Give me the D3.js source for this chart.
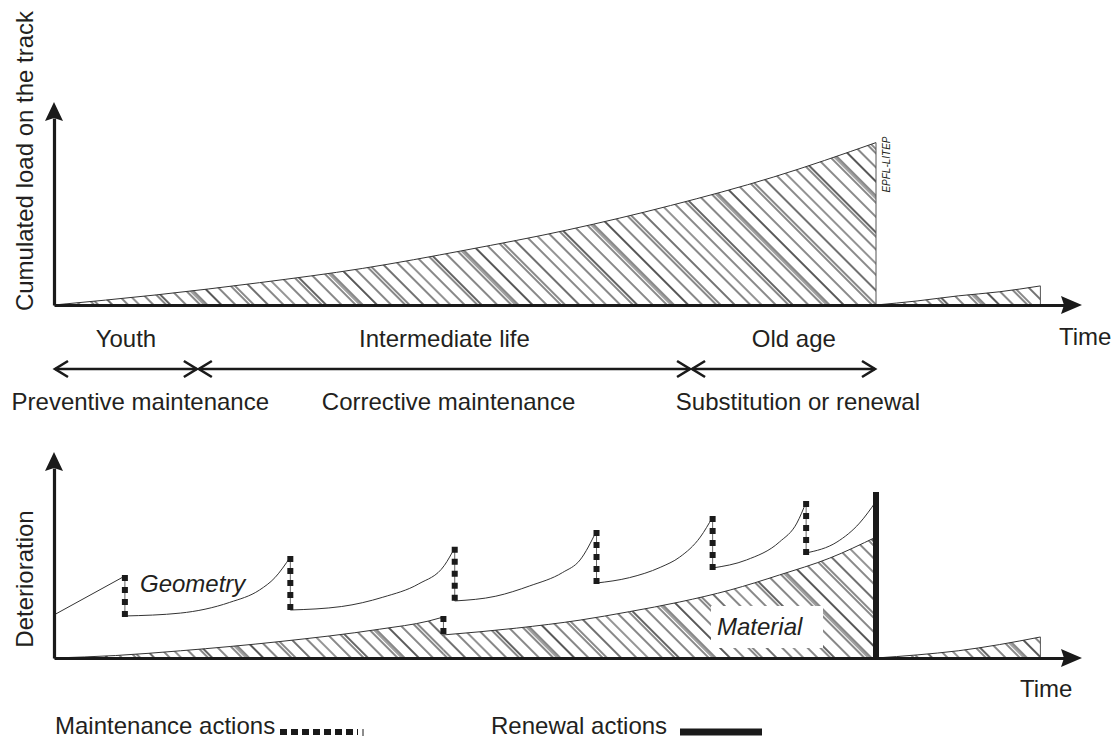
<!DOCTYPE html>
<html>
<head>
<meta charset="utf-8">
<script src="https://cdn.jsdelivr.net/npm/d3@7"></script>
<style>
  body { margin: 0; background: #fff; }
  svg text { font-family: "Liberation Sans", Arial, sans-serif; fill: #231f20; }
</style>
</head>
<body>
<div id="chart"></div>
<script>
// время (0..100) и значения (0..100) в условных единицах
var loadCycle1 = [[0,0],[10,5],[20,11],[30,18],[40,27],[50,37],[60,49],[70,63],[80,80]];
var loadCycle2 = [[80,0],[84,2],[88,4.5],[92,6.5],[96,9.4]];

var phases = ["Youth", "Intermediate life", "Old age"];
var strategies = ["Preventive maintenance", "Corrective maintenance", "Substitution or renewal"];
var phaseBounds = [0, 14, 62, 80];
var phaseLabelT = [7, 38, 72];
var strategyLabelT = [8.4, 38.4, 72.4];

// геометрия: отрезки между подбивками
var geometrySegments = [
  [[0,20.9],[6.9,39.8]],
  [[6.9,20.4],[12.3,21.8],[17.1,27],[20,33],[21.5,39],[23,49]],
  [[23,23.3],[28,25],[32,29.5],[35.5,36],[38,45],[39,53.5]],
  [[39,27.7],[43,30],[46.3,35],[49.5,41.5],[51.2,47.6],[52.8,61.7]],
  [[52.8,36.4],[56,39],[59,44],[60.9,49],[62.9,58.7],[64.1,68.4]],
  [[64.1,43.7],[67.4,47.6],[70.6,56.3],[72.3,65.5],[73.2,75.7]],
  [[73.2,51],[76.2,56.3],[78.4,65.5],[80,76]]
];
var materialSegments = [
  [[0,0],[6,1.2],[12.3,3.5],[22,8],[31.7,14],[36.5,18],[37.9,19.9]],
  [[37.9,11.2],[45,14.5],[51.2,18.4],[56,22.5],[60.9,27.2],[65.8,33],[70.6,40.3],[75.5,48.5],[80,58.7]]
];
var materialCycle2 = [[80,0],[84,1.5],[88,3.5],[92,6.5],[96,10.2]];
var renewalT = 80, renewalTop = 80.6;

var width = 1115, height = 742;
var svg = d3.select("#chart").append("svg")
    .attr("width", width)
    .attr("height", height);

var x = d3.scaleLinear().domain([0, 100]).range([54, 1081.5]);
var yTop = d3.scaleLinear().domain([0, 100]).range([305, 102]);
var yBot = d3.scaleLinear().domain([0, 100]).range([658, 452]);

// штриховка
var hatchX = [3,12,15,26,36,39,41,51,61,71,74,84,95,103];
var hatchW = [1,1,1.3,1,1,0.8,1,1.4,1,1,1,1.2,1,0.9];
var defs = svg.append("defs");
var pat = defs.append("pattern")
    .attr("id", "hatch")
    .attr("patternUnits", "userSpaceOnUse")
    .attr("width", 110).attr("height", 40)
    .attr("patternTransform", "rotate(-45)");
pat.selectAll("line").data(hatchX).join("line")
    .attr("x1", d => d).attr("x2", d => d)
    .attr("y1", 0).attr("y2", 40)
    .attr("stroke", "#111")
    .attr("stroke-width", (d, i) => hatchW[i]);

function curveLine(yS) {
  return d3.line().x(d => x(d[0])).y(d => yS(d[1])).curve(d3.curveMonotoneX);
}

// заштрихованная область: только верхняя граница обведена, плюс правый край если надо
function hatchedArea(g, pts, yS, edge) {
  var area = d3.area().x(d => x(d[0])).y0(yS(0)).y1(d => yS(d[1])).curve(d3.curveMonotoneX);
  g.append("path").attr("d", area(pts)).attr("fill", "url(#hatch)");
  g.append("path").attr("d", curveLine(yS)(pts))
    .attr("fill", "none").attr("stroke", "#333").attr("stroke-width", 1);
  if (edge) {
    var last = pts[pts.length - 1];
    g.append("line")
      .attr("x1", x(last[0])).attr("x2", x(last[0]))
      .attr("y1", yS(last[1])).attr("y2", yS(0))
      .attr("stroke", "#555").attr("stroke-width", 1);
  }
}

function drawAxes(yS, yTip) {
  var xa = d3.scaleLinear().domain([0, 1]).range([54, 1066]);
  var ya = d3.scaleLinear().domain([0, 1]).range([yS(0), yTip + 16]);
  svg.append("g")
    .attr("transform", "translate(0," + yS(0) + ")")
    .call(d3.axisBottom(xa).tickValues([]).tickSizeOuter(0))
    .select(".domain").attr("stroke", "#1a1a1a").attr("stroke-width", 3.2);
  svg.append("g")
    .attr("transform", "translate(54,0)")
    .call(d3.axisLeft(ya).tickValues([]).tickSizeOuter(0))
    .select(".domain").attr("stroke", "#1a1a1a").attr("stroke-width", 3.2);
  var y0 = yS(0);
  svg.append("path")
    .attr("d", "M1082," + y0 + "L1061," + (y0 - 9) + "L1064," + y0 + "L1061," + (y0 + 9) + "Z")
    .attr("fill", "#1a1a1a");
  svg.append("path")
    .attr("d", "M54," + yTip + "L45," + (yTip + 19) + "L54," + (yTip + 16) + "L63," + (yTip + 19) + "Z")
    .attr("fill", "#1a1a1a");
}

// ---------- верхний график ----------
var gTop = svg.append("g");
hatchedArea(gTop, loadCycle1, yTop, true);
hatchedArea(gTop, loadCycle2, yTop, true);
drawAxes(yTop, 102);

svg.append("text")
  .attr("transform", "translate(" + (x(80) + 14) + "," + (yTop(80) + 50) + ") rotate(-90)")
  .attr("font-size", 10).attr("font-style", "italic")
  .text("EPFL-LITEP");

svg.append("text")
  .attr("transform", "translate(33,161) rotate(-90)")
  .attr("text-anchor", "middle").attr("font-size", 24)
  .text("Cumulated load on the track");
svg.append("text").attr("x", 1059).attr("y", 345).attr("font-size", 24).text("Time");

// фазы
svg.selectAll("text.phase").data(phases).join("text")
  .attr("class", "phase")
  .attr("x", (d, i) => x(phaseLabelT[i])).attr("y", 347)
  .attr("text-anchor", "middle").attr("font-size", 24)
  .text(d => d);
svg.selectAll("text.strategy").data(strategies).join("text")
  .attr("class", "strategy")
  .attr("x", (d, i) => x(strategyLabelT[i])).attr("y", 410)
  .attr("text-anchor", "middle").attr("font-size", 24)
  .text(d => d);

var arrowY = 369;
var gArr = svg.append("g").attr("stroke", "#1a1a1a").attr("stroke-width", 2.6).attr("fill", "none");
for (var i = 0; i < phases.length; i++) {
  var a = x(phaseBounds[i]), b = x(phaseBounds[i + 1]);
  gArr.append("line").attr("x1", a + 1).attr("x2", b - 1).attr("y1", arrowY).attr("y2", arrowY);
  gArr.append("path").attr("d", "M" + (a + 14) + "," + (arrowY - 8) + "L" + (a + 1) + "," + arrowY + "L" + (a + 14) + "," + (arrowY + 8));
  gArr.append("path").attr("d", "M" + (b - 14) + "," + (arrowY - 8) + "L" + (b - 1) + "," + arrowY + "L" + (b - 14) + "," + (arrowY + 8));
}

// ---------- нижний график ----------
var gBot = svg.append("g");
materialSegments.forEach(function(seg) {
  hatchedArea(gBot, seg, yBot, false);
});
hatchedArea(gBot, materialCycle2, yBot, true);
// белое поле под подписью
gBot.append("rect").attr("x", 711).attr("y", 606).attr("width", 112).attr("height", 42).attr("fill", "#fff");
gBot.append("text").attr("x", 717).attr("y", 635)
  .attr("font-size", 24).attr("font-style", "italic").text("Material");

gBot.selectAll("path.geo").data(geometrySegments).join("path")
  .attr("class", "geo")
  .attr("d", curveLine(yBot))
  .attr("fill", "none").attr("stroke", "#333").attr("stroke-width", 1);

// подбивки (maintenance)
function drops(segs) {
  var out = [];
  for (var i = 0; i < segs.length - 1; i++) {
    var p = segs[i][segs[i].length - 1], q = segs[i + 1][0];
    out.push({ t: p[0], hi: p[1], lo: q[1] });
  }
  return out;
}
var allDrops = drops(geometrySegments).concat(drops(materialSegments));
var gDrop = gBot.selectAll("g.drop").data(allDrops).join("g").attr("class", "drop");
gDrop.append("line")
  .attr("x1", d => x(d.t)).attr("x2", d => x(d.t))
  .attr("y1", d => yBot(d.hi)).attr("y2", d => yBot(d.lo))
  .attr("stroke", "#666").attr("stroke-width", 1);
gDrop.append("line")
  .attr("x1", d => x(d.t)).attr("x2", d => x(d.t))
  .attr("y1", d => yBot(d.hi) - 1).attr("y2", d => yBot(d.lo) + 3)
  .attr("stroke", "#1a1a1a").attr("stroke-width", 6)
  .attr("stroke-dasharray", "6,6");

// замена (renewal)
gBot.append("line")
  .attr("x1", x(renewalT)).attr("x2", x(renewalT))
  .attr("y1", yBot(renewalTop)).attr("y2", yBot(0))
  .attr("stroke", "#1a1a1a").attr("stroke-width", 6);

drawAxes(yBot, 452);

svg.append("text")
  .attr("x", 140).attr("y", 592)
  .attr("font-size", 24).attr("font-style", "italic").text("Geometry");
svg.append("text")
  .attr("transform", "translate(33,579) rotate(-90)")
  .attr("text-anchor", "middle").attr("font-size", 24)
  .text("Deterioration");
svg.append("text").attr("x", 1020).attr("y", 697).attr("font-size", 24).text("Time");

// легенда
var legY = 734;
svg.append("text").attr("x", 55).attr("y", legY).attr("font-size", 24).text("Maintenance actions");
svg.append("line").attr("x1", 280).attr("x2", 358).attr("y1", legY - 2).attr("y2", legY - 2)
  .attr("stroke", "#1a1a1a").attr("stroke-width", 6).attr("stroke-dasharray", "7,4");
svg.append("line").attr("x1", 363).attr("x2", 363).attr("y1", legY - 5).attr("y2", legY + 2)
  .attr("stroke", "#1a1a1a").attr("stroke-width", 1);
svg.append("text").attr("x", 491).attr("y", legY).attr("font-size", 24).text("Renewal actions");
svg.append("line").attr("x1", 680).attr("x2", 762).attr("y1", legY - 2).attr("y2", legY - 2)
  .attr("stroke", "#1a1a1a").attr("stroke-width", 7);
</script>
</body>
</html>
